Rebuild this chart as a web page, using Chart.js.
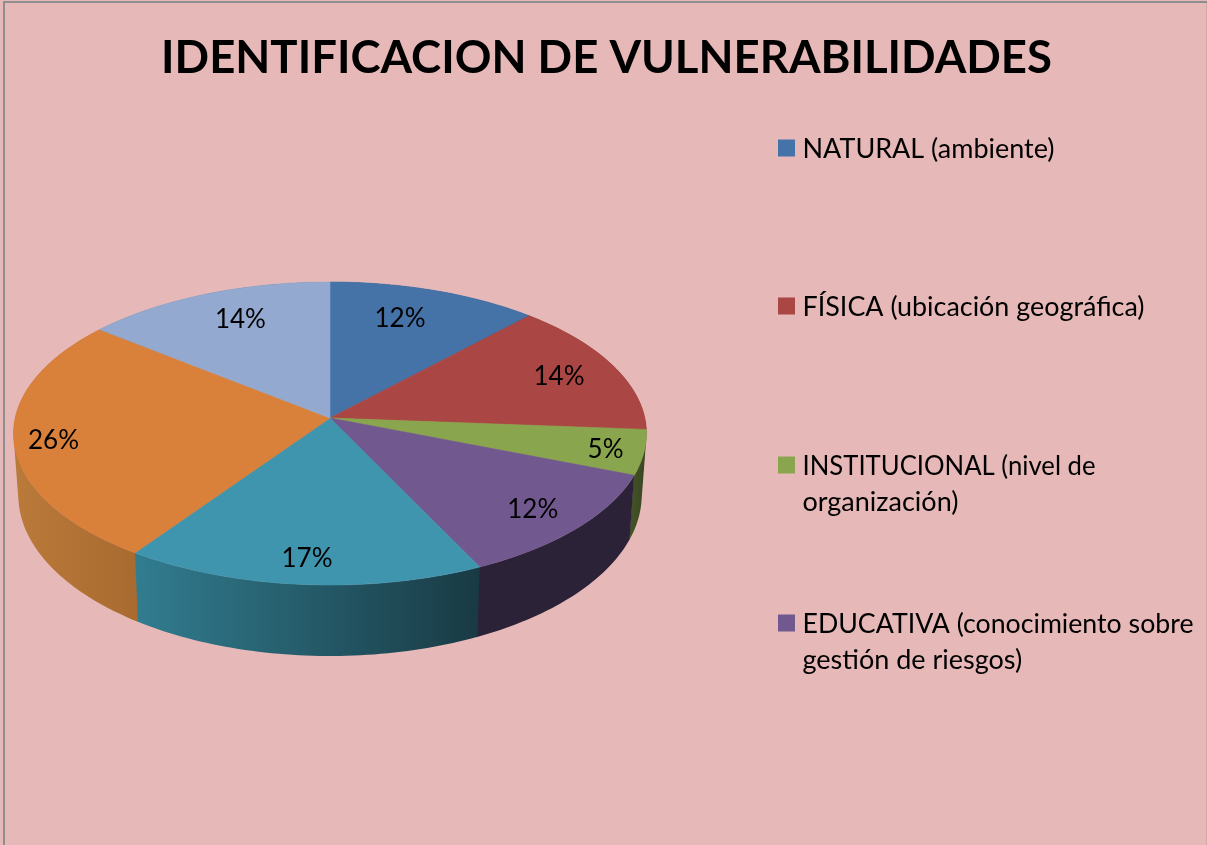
<!DOCTYPE html>
<html>
<head>
<meta charset="utf-8">
<script src="https://cdn.jsdelivr.net/npm/chart.js@4"></script>
<style>
html,body{margin:0;padding:0;background:#E6B8B7;}
canvas{display:block;}
</style>
</head>
<body>
<canvas id="c" width="1207" height="845"></canvas>
<script>
const chartTitle = 'IDENTIFICACION DE VULNERABILIDADES';
const categories = ['NATURAL (ambiente)', 'FÍSICA (ubicación geográfica)', 'INSTITUCIONAL (nivel de organización)', 'EDUCATIVA (conocimiento sobre gestión de riesgos)', '', '', ''];
const values = [11.9, 14.3, 4.8, 11.9, 16.7, 26.2, 14.2];
const sliceColors = ['#4572A7', '#AA4643', '#89A54E', '#71588F', '#4095AE', '#D9803B', '#93A9CF'];
const wallColorsFrom = ['#2E4C70', '#72302D', '#46542A', '#2B2238', '#317D90', '#BA7A3A', '#62718C'];
const wallColorsTo = ['#2E4C70', '#72302D', '#38451F', '#2B2238', '#193A44', '#A96A30', '#62718C'];
const legendLines = [['NATURAL (ambiente)'], ['FÍSICA (ubicación geográfica)'], ['INSTITUCIONAL (nivel de', 'organización)'], ['EDUCATIVA (conocimiento sobre', 'gestión de riesgos)']];
const legendLineWidths = [[252], [342], [293, 159], [391, 222]];
const legendTops = [148, 306, 465, 623];
const labelRadius = [0.76, 0.805, 0.88, 0.83, 0.85, 0.877, 0.78];
const labelShiftDeg = [-3.1, 0, 0, 0, 0, -0.9, 2.5];

// Perspective view of the flat pie disk
const apex = {x: 330, y: 418};
const persp = {a: 149.9, c: -0.1023, e: 314.8};
function project(theta, r) {
  const u = r * Math.sin(theta), v = -r * Math.cos(theta);
  const d = 1 + persp.c * v;
  return {x: apex.x + persp.e * u / d, y: apex.y + persp.a * v / d};
}
function projectBottom(theta) {
  const p = project(theta, 1);
  return {x: apex.x + (p.x - apex.x) * 0.985, y: apex.y + (p.y - apex.y) * 1.063 + 60.5};
}
const thetaOf = a => a + Math.PI / 2;

const pie3d = {
  id: 'pie3d',
  beforeDraw(chart) {
    const ctx = chart.ctx;
    ctx.save();
    ctx.fillStyle = '#E6B8B7';
    ctx.fillRect(0, 0, chart.width, chart.height);
    ctx.strokeStyle = '#8E8E8E';
    ctx.lineWidth = 2;
    ctx.beginPath();
    ctx.moveTo(4, chart.height);
    ctx.lineTo(4, 2);
    ctx.lineTo(chart.width, 2);
    ctx.stroke();
    ctx.strokeStyle = '#D4A9A8';
    ctx.lineWidth = 1;
    ctx.beginPath();
    ctx.moveTo(chart.width - 0.5, 3);
    ctx.lineTo(chart.width - 0.5, chart.height);
    ctx.stroke();
    ctx.restore();
  },
  beforeDatasetDraw(chart) {
    const ctx = chart.ctx;
    const arcs = chart.getDatasetMeta(0).data;
    const STEP = 0.02;
    ctx.save();
    arcs.forEach((arc, i) => {
      const t0 = thetaOf(arc.startAngle), t1 = thetaOf(arc.endAngle) + 0.004;
      const top = [], bottom = [];
      const n = Math.max(2, Math.ceil((t1 - t0) / STEP));
      for (let k = 0; k <= n; k++) {
        const t = t0 + (t1 - t0) * k / n;
        top.push(project(t, 1));
        bottom.push(projectBottom(t));
      }
      const xs = top.concat(bottom).map(p => p.x);
      const g = ctx.createLinearGradient(Math.min(...xs), 0, Math.max(...xs), 0);
      g.addColorStop(0, wallColorsFrom[i]);
      g.addColorStop(1, wallColorsTo[i]);
      ctx.fillStyle = g;
      // all strips of one slice go into a single path, so no seams show between them
      ctx.beginPath();
      for (let k = 0; k < n; k++) {
        const a = top[k], b = top[k + 1], c = bottom[k + 1], d = bottom[k];
        // keep every strip wound the same way so overlapping strips never cancel
        const area = (b.x - a.x) * (c.y - a.y) - (b.y - a.y) * (c.x - a.x) +
                     (c.x - a.x) * (d.y - a.y) - (c.y - a.y) * (d.x - a.x);
        const quad = area >= 0 ? [a, b, c, d] : [d, c, b, a];
        ctx.moveTo(quad[0].x, quad[0].y);
        ctx.lineTo(quad[1].x, quad[1].y);
        ctx.lineTo(quad[2].x, quad[2].y);
        ctx.lineTo(quad[3].x, quad[3].y);
        ctx.closePath();
      }
      ctx.fill();
    });
    arcs.forEach((arc, i) => {
      const t0 = thetaOf(arc.startAngle), t1 = thetaOf(arc.endAngle);
      const n = Math.max(2, Math.ceil((t1 - t0) / STEP));
      ctx.fillStyle = sliceColors[i];
      ctx.strokeStyle = sliceColors[i];
      ctx.lineWidth = 0.6;
      ctx.beginPath();
      ctx.moveTo(apex.x, apex.y);
      for (let k = 0; k <= n; k++) {
        const p = project(t0 + (t1 - t0) * k / n, 1);
        ctx.lineTo(p.x, p.y);
      }
      ctx.closePath();
      ctx.fill();
      ctx.stroke();
    });
    ctx.restore();
    return false;
  },
  afterDatasetsDraw(chart) {
    const ctx = chart.ctx;
    const arcs = chart.getDatasetMeta(0).data;
    const total = values.reduce((a, b) => a + b, 0);
    ctx.save();
    ctx.fillStyle = '#000';
    ctx.font = '26px Lato';
    ctx.textAlign = 'center';
    ctx.textBaseline = 'middle';
    arcs.forEach((arc, i) => {
      const mid = thetaOf((arc.startAngle + arc.endAngle) / 2) + labelShiftDeg[i] * Math.PI / 180;
      const p = project(mid, labelRadius[i]);
      ctx.fillText(Math.round(values[i] / total * 100) + '%', p.x, p.y + 1.5);
    });
    // legend
    ctx.font = '27px Lato';
    ctx.textAlign = 'left';
    legendLines.forEach((lines, i) => {
      ctx.fillStyle = sliceColors[i];
      ctx.fillRect(778, legendTops[i] - 8.5, 17, 17);
      ctx.fillStyle = '#000';
      lines.forEach((line, j) => ctx.fillText(line, 802.5, legendTops[i] + 1 + j * 36, legendLineWidths[i][j]));
    });
    ctx.restore();
  }
};

new Chart(document.getElementById('c'), {
  type: 'pie',
  data: {
    labels: categories,
    datasets: [{data: values, backgroundColor: sliceColors, borderWidth: 0}]
  },
  options: {
    responsive: false,
    animation: false,
    layout: {padding: {left: 6}},
    plugins: {
      legend: {display: false},
      tooltip: {enabled: false},
      title: {
        display: true,
        text: chartTitle,
        color: '#000',
        font: {family: 'Lato', size: 45.5, weight: 'bold'},
        padding: {top: 31, bottom: 10}
      }
    }
  },
  plugins: [pie3d]
});
</script>
</body>
</html>
